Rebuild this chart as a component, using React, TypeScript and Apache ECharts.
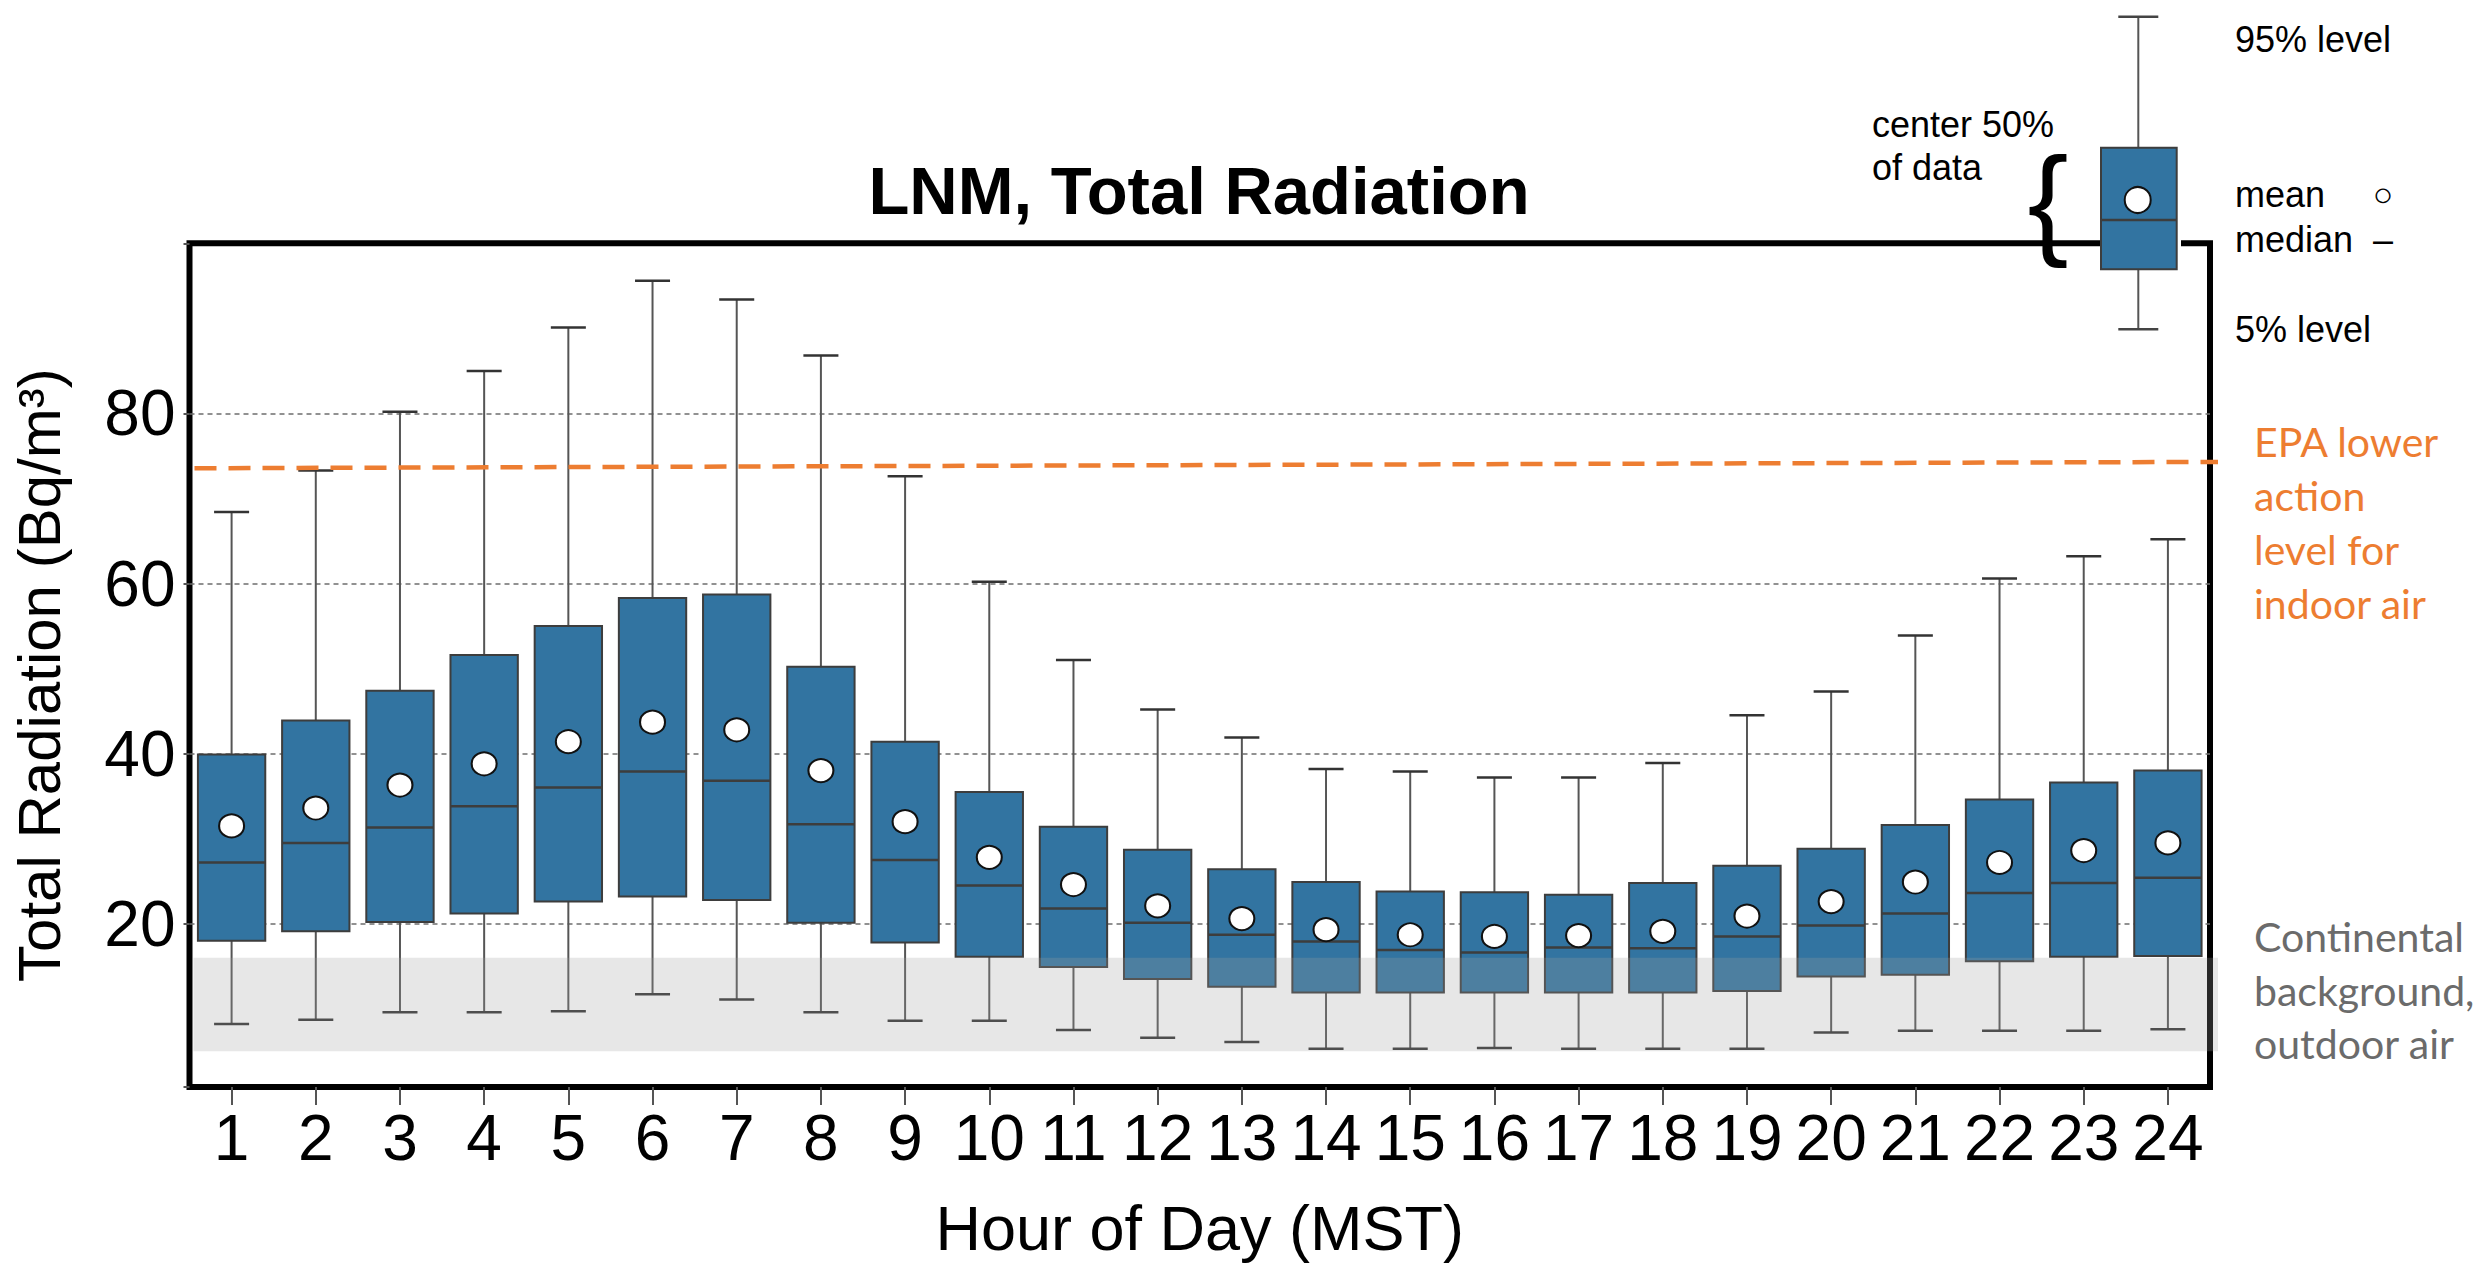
import React, { useEffect, useRef } from "react";
import * as echarts from "echarts";

// ---- data ----
const HOURS = ["1","2","3","4","5","6","7","8","9","10","11","12","13","14","15","16","17","18","19","20","21","22","23","24"];
const P95 = [68.4, 73.3, 80.2, 85.0, 90.1, 95.6, 93.4, 86.8, 72.6, 60.2, 51.0, 45.2, 41.9, 38.2, 37.9, 37.2, 37.2, 38.9, 44.5, 47.3, 53.9, 60.6, 63.2, 65.2];
const Q3 = [39.9, 43.9, 47.4, 51.6, 55.0, 58.3, 58.7, 50.2, 41.4, 35.5, 31.4, 28.7, 26.4, 24.9, 23.8, 23.7, 23.4, 24.8, 26.8, 28.8, 31.6, 34.6, 36.6, 38.0];
const MEDIAN = [27.2, 29.5, 31.3, 33.8, 36.0, 37.9, 36.8, 31.7, 27.5, 24.5, 21.8, 20.1, 18.7, 17.9, 16.9, 16.6, 17.2, 17.1, 18.5, 19.8, 21.2, 23.6, 24.8, 25.4];
const MEAN = [31.5, 33.6, 36.3, 38.8, 41.4, 43.7, 42.8, 38.0, 32.0, 27.8, 24.6, 22.1, 20.6, 19.3, 18.7, 18.5, 18.6, 19.1, 20.9, 22.6, 24.9, 27.2, 28.6, 29.5];
const Q1 = [18.0, 19.1, 20.2, 21.2, 22.6, 23.2, 22.8, 20.1, 17.8, 16.1, 14.9, 13.5, 12.6, 11.9, 11.9, 11.9, 11.9, 11.9, 12.1, 13.8, 14.0, 15.6, 16.1, 16.2];
const P5 = [8.2, 8.7, 9.6, 9.6, 9.7, 11.7, 11.1, 9.6, 8.6, 8.6, 7.5, 6.6, 6.1, 5.3, 5.3, 5.4, 5.3, 5.3, 5.3, 7.2, 7.4, 7.4, 7.4, 7.6];
const Y_TICKS = [20, 40, 60, 80];
const EPA_LEVEL = [73.55, 74.3]; // start / end of the hand-drawn EPA line
const BACKGROUND_BAND = [5, 16]; // continental background range

// ---- styles ----
const FONT = "'Liberation Sans', Arial, sans-serif";
const BOX_FILL = "#3274a1";
const BOX_EDGE = "#3d3d3d";
const WHISKER = "#555555";
const ORANGE = "#ed7d31";

export default function App() {
  const ref = useRef<HTMLDivElement>(null);

  useEffect(() => {
    document.body.style.margin = "0";
    const chart = echarts.init(ref.current!, null, { renderer: "svg" });

    const boxData = HOURS.map((_, i) => [i, P5[i], Q1[i], MEDIAN[i], Q3[i], P95[i]]);

    const option: any = {
      animation: false,
      backgroundColor: "#ffffff",
      title: {
        text: "LNM, Total Radiation",
        left: 1194,
        top: 151.6,
        textAlign: "center",
        textStyle: { fontFamily: FONT, fontWeight: "bold", fontSize: 67, color: "#000" },
      },
      grid: {
        left: 189.5,
        right: 276,
        top: 243.3,
        bottom: 174.3,
        show: true,
        borderColor: "#000",
        borderWidth: 6,
        backgroundColor: "transparent",
      },
      xAxis: {
        type: "category",
        data: HOURS,
        boundaryGap: true,
        name: "Hour of Day (MST)",
        nameLocation: "middle",
        nameGap: 109,
        nameTextStyle: { fontFamily: FONT, fontSize: 63, color: "#000" },
        axisLine: { show: false },
        axisTick: { show: true, alignWithLabel: true, length: 18, lineStyle: { color: "#555", width: 2 } },
        axisLabel: { fontFamily: FONT, fontSize: 64, color: "#000", margin: 19, interval: 0 },
        splitLine: { show: false },
      },
      yAxis: {
        type: "value",
        min: 0.8,
        max: 100,
        name: "Total Radiation (Bq/m³)",
        nameLocation: "middle",
        nameRotate: 90,
        nameGap: 120,
        nameTextStyle: { fontFamily: FONT, fontSize: 60, color: "#000", padding: [0, 20, 0, 0] },
        axisLine: { show: false },
        axisTick: { show: true, length: 6, lineStyle: { color: "#555", width: 2 } },
        axisLabel: {
          fontFamily: FONT,
          fontSize: 64,
          color: "#000",
          margin: 14,
          formatter: (v: number) => (Y_TICKS.indexOf(v) >= 0 ? String(v) : ""),
        },
        splitLine: {
          show: true,
          showMinLine: false,
          showMaxLine: false,
          lineStyle: { color: "#6e6e6e", width: 1.5, type: [5, 4] },
        },
      },
      series: [
        {
          type: "custom",
          name: "box",
          z: 2,
          data: boxData,
          encode: { x: 0, y: [1, 2, 3, 4, 5] },
          renderItem: (params: any, api: any) => {
            const x = api.value(0);
            const lo = api.coord([x, api.value(1)]);
            const q1 = api.coord([x, api.value(2)]);
            const med = api.coord([x, api.value(3)]);
            const q3 = api.coord([x, api.value(4)]);
            const hi = api.coord([x, api.value(5)]);
            const bw = api.size([1, 0])[0] * 0.8;
            const cw = bw * 0.52;
            const cx = med[0];
            const wStyle = { stroke: WHISKER, lineWidth: 2 };
            return {
              type: "group",
              children: [
                { type: "line", shape: { x1: cx, y1: q3[1], x2: cx, y2: hi[1] }, style: wStyle },
                { type: "line", shape: { x1: cx, y1: q1[1], x2: cx, y2: lo[1] }, style: wStyle },
                { type: "line", shape: { x1: cx - cw / 2, y1: hi[1], x2: cx + cw / 2, y2: hi[1] }, style: { stroke: "#333", lineWidth: 2.5 } },
                { type: "line", shape: { x1: cx - cw / 2, y1: lo[1], x2: cx + cw / 2, y2: lo[1] }, style: { stroke: "#333", lineWidth: 2.5 } },
                {
                  type: "rect",
                  shape: { x: cx - bw / 2, y: q3[1], width: bw, height: q1[1] - q3[1] },
                  style: { fill: BOX_FILL, stroke: BOX_EDGE, lineWidth: 2 },
                },
                { type: "line", shape: { x1: cx - bw / 2, y1: med[1], x2: cx + bw / 2, y2: med[1] }, style: { stroke: BOX_EDGE, lineWidth: 2.5 } },
              ],
            };
          },
        },
        {
          type: "custom",
          name: "background band",
          z: 4,
          silent: true,
          data: [[0, BACKGROUND_BAND[0], BACKGROUND_BAND[1]]],
          encode: { x: 0, y: [1, 2] },
          renderItem: (params: any, api: any) => {
            const cs = params.coordSys;
            const yLo = api.coord([0, api.value(1)])[1];
            const yHi = api.coord([0, api.value(2)])[1];
            return {
              type: "rect",
              shape: { x: cs.x + 4, y: yHi, width: cs.width + 4, height: yLo - yHi },
              style: { fill: "rgba(160,160,160,0.25)" },
            };
          },
        },
        {
          type: "custom",
          name: "EPA lower action level",
          z: 5,
          silent: true,
          data: [[0, EPA_LEVEL[0], EPA_LEVEL[1]]],
          encode: { x: 0, y: [1, 2] },
          renderItem: (params: any, api: any) => {
            const cs = params.coordSys;
            const y0 = api.coord([0, api.value(1)])[1];
            const y1 = api.coord([0, api.value(2)])[1];
            return {
              type: "line",
              shape: { x1: cs.x + 5, y1: y0, x2: cs.x + cs.width + 8, y2: y1 },
              style: { stroke: ORANGE, lineWidth: 4.5, lineDash: [22, 12] },
            };
          },
        },
        {
          type: "scatter",
          name: "mean",
          z: 6,
          data: MEAN,
          symbol: "circle",
          symbolSize: [25, 23],
          itemStyle: { color: "#ffffff", borderColor: "#111", borderWidth: 2, opacity: 1 },
        },
      ],
      graphic: [
        // annotations to the right of the plot
        {
          type: "text",
          z: 50,
          style: {
            text: "EPA lower\naction\nlevel for\nindoor air",
            x: 2254,
            y: 414.6,
            fill: ORANGE,
            fontFamily: "Lato, 'Open Sans', sans-serif",
            fontSize: 41,
            lineHeight: 54,
            align: "left",
            verticalAlign: "top",
          },
        },
        {
          type: "text",
          z: 50,
          style: {
            text: "Continental\nbackground,\noutdoor air",
            x: 2254,
            y: 910,
            fill: "#6b6b6b",
            fontFamily: "Lato, 'Open Sans', sans-serif",
            fontSize: 41,
            lineHeight: 53.5,
            align: "left",
            verticalAlign: "top",
          },
        },
        // key illustration (top right)
        {
          type: "group",
          z: 100,
          children: [
            { type: "rect", z: 100, shape: { x: 2101, y: 143, width: 80, height: 131 }, style: { fill: "#fff" } },
            { type: "line", z: 101, shape: { x1: 2138.3, y1: 16.7, x2: 2138.3, y2: 147.7 }, style: { stroke: WHISKER, lineWidth: 2 } },
            { type: "line", z: 101, shape: { x1: 2138.3, y1: 269.3, x2: 2138.3, y2: 329.3 }, style: { stroke: WHISKER, lineWidth: 2 } },
            { type: "line", z: 101, shape: { x1: 2118.3, y1: 16.7, x2: 2158.3, y2: 16.7 }, style: { stroke: "#444", lineWidth: 2.5 } },
            { type: "line", z: 101, shape: { x1: 2118.3, y1: 329.3, x2: 2158.3, y2: 329.3 }, style: { stroke: "#444", lineWidth: 2.5 } },
            { type: "rect", z: 102, shape: { x: 2101, y: 147.7, width: 75.7, height: 121.6 }, style: { fill: BOX_FILL, stroke: BOX_EDGE, lineWidth: 2 } },
            { type: "line", z: 103, shape: { x1: 2101, y1: 220, x2: 2176.7, y2: 220 }, style: { stroke: BOX_EDGE, lineWidth: 2.5 } },
            { type: "circle", z: 104, shape: { cx: 2137.7, cy: 200, r: 13 }, style: { fill: "#fff", stroke: "#111", lineWidth: 2 } },
            {
              type: "text", z: 104,
              style: { text: "{", x: 2048, y: 200.7, fill: "#000", fontFamily: FONT, fontSize: 123, align: "center", verticalAlign: "middle" },
            },
            { type: "text", z: 104, style: { text: "center 50%", x: 1872, y: 124.2, fill: "#000", fontFamily: FONT, fontSize: 36, align: "left", verticalAlign: "middle" } },
            { type: "text", z: 104, style: { text: "of data", x: 1872, y: 167.5, fill: "#000", fontFamily: FONT, fontSize: 36, align: "left", verticalAlign: "middle" } },
            { type: "text", z: 104, style: { text: "95% level", x: 2235, y: 39.2, fill: "#000", fontFamily: FONT, fontSize: 36, align: "left", verticalAlign: "middle" } },
            { type: "text", z: 104, style: { text: "mean", x: 2235, y: 194.2, fill: "#000", fontFamily: FONT, fontSize: 36, align: "left", verticalAlign: "middle" } },
            { type: "text", z: 104, style: { text: "○", x: 2383, y: 194, fill: "#000", fontFamily: FONT, fontSize: 34, align: "center", verticalAlign: "middle" } },
            { type: "text", z: 104, style: { text: "median  –", x: 2235, y: 239.2, fill: "#000", fontFamily: FONT, fontSize: 36, align: "left", verticalAlign: "middle" } },
            { type: "text", z: 104, style: { text: "5% level", x: 2235, y: 329.2, fill: "#000", fontFamily: FONT, fontSize: 36, align: "left", verticalAlign: "middle" } },
          ],
        },
      ],
    };

    chart.setOption(option);
    return () => chart.dispose();
  }, []);

  return (
    <div
      ref={ref}
      style={{ position: "fixed", left: 0, top: 0, width: 2486, height: 1264, background: "#fff" }}
    />
  );
}
